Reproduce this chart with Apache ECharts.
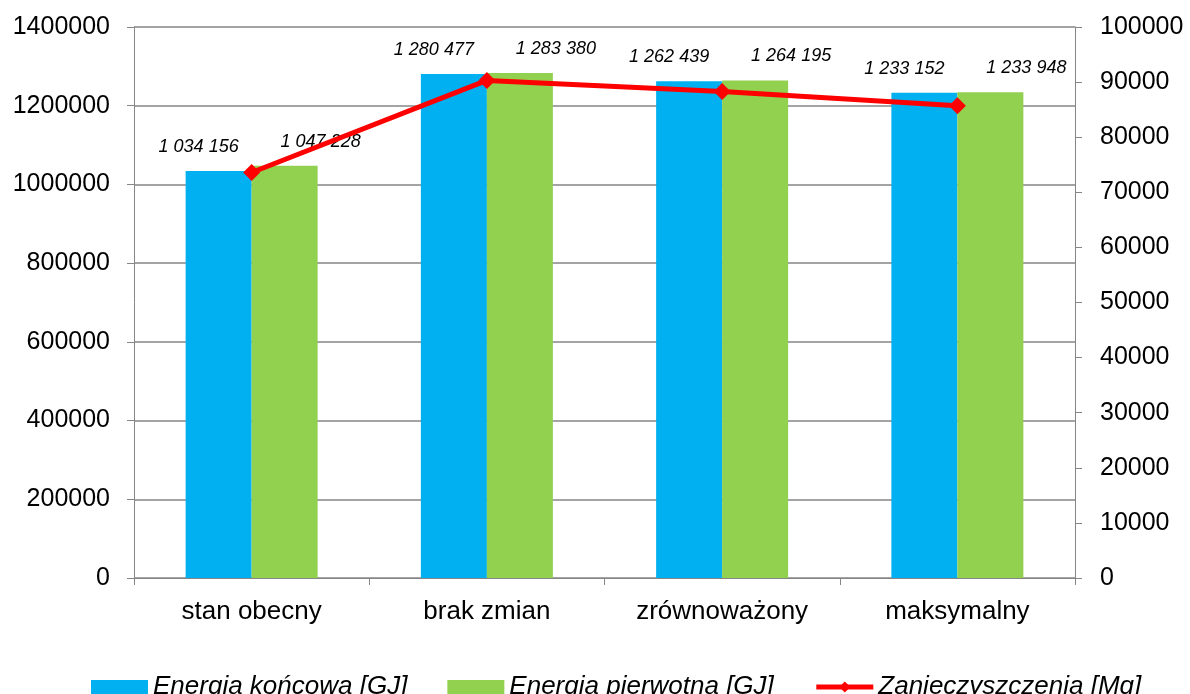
<!DOCTYPE html>
<html>
<head>
<meta charset="utf-8">
<script src="https://cdn.jsdelivr.net/npm/echarts@6/dist/echarts.min.js"></script>
<style>
html,body{margin:0;padding:0;background:#fff;}
#chart{width:1190px;height:694px;}
</style>
</head>
<body>
<div id="chart"></div>
<script>
var categories = ['stan obecny', 'brak zmian', 'zrównoważony', 'maksymalny'];
var energiaKoncowa = [1034156, 1280477, 1262439, 1233152];
var energiaPierwotna = [1047228, 1283380, 1264195, 1233948];
var zanieczyszczenia = [73600, 90300, 88300, 85700];
var seriesNames = ['Energia końcowa [GJ]', 'Energia pierwotna [GJ]', 'Zanieczyszczenia [Mg]'];

var FONT = '"Liberation Sans", Arial, sans-serif';
var AXIS_COLOR = '#868686';

function spaced(v) {
  return String(v).replace(/\B(?=(\d{3})+(?!\d))/g, ' ');
}
function plain(v) { return String(v); }

var chart = echarts.init(document.getElementById('chart'), null, {renderer: 'canvas'});
var barLabel = function (dx) {
  return {
    show: true,
    position: 'top',
    distance: 5,
    offset: [dx, -10],
    fontFamily: FONT,
    fontSize: 18,
    fontStyle: 'italic',
    color: '#000',
    formatter: function (p) { return spaced(p.value); }
  };
};

chart.setOption({
  animation: false,
  backgroundColor: '#fff',
  textStyle: {fontFamily: FONT},
  grid: {left: 134, right: 115, top: 27, bottom: 116, containLabel: false},
  legend: {
    top: 669,
    left: 86,
    itemWidth: 57,
    itemHeight: 14,
    itemGap: 40,
    textStyle: {fontFamily: FONT, fontSize: 26, fontStyle: 'italic', color: '#000'},
    data: [
      {name: seriesNames[0], icon: 'rect'},
      {name: seriesNames[1], icon: 'rect'},
      {name: seriesNames[2], lineStyle: {width: 5, color: '#FF0000'}}
    ]
  },
  xAxis: {
    type: 'category',
    data: categories,
    axisLine: {lineStyle: {color: AXIS_COLOR, width: 1}},
    axisTick: {show: true, length: 7, alignWithLabel: false, lineStyle: {color: AXIS_COLOR}},
    axisLabel: {fontFamily: FONT, fontSize: 26, color: '#000', margin: 21}
  },
  yAxis: [
    {
      type: 'value',
      min: 0, max: 1400000, interval: 200000,
      position: 'left',
      axisLine: {show: true, lineStyle: {color: AXIS_COLOR}},
      axisTick: {show: true, length: 7, lineStyle: {color: AXIS_COLOR}},
      splitLine: {show: true, lineStyle: {color: AXIS_COLOR, width: 1.5}},
      axisLabel: {fontFamily: FONT, fontSize: 25, color: '#000', margin: 24, formatter: plain}
    },
    {
      type: 'value',
      min: 0, max: 100000, interval: 10000,
      position: 'right',
      axisLine: {show: true, lineStyle: {color: AXIS_COLOR}},
      axisTick: {show: true, length: 7, lineStyle: {color: AXIS_COLOR}},
      splitLine: {show: false},
      axisLabel: {fontFamily: FONT, fontSize: 25, color: '#000', margin: 25, formatter: plain}
    }
  ],
  series: [
    {
      name: seriesNames[0],
      type: 'bar',
      data: energiaKoncowa,
      barWidth: 66,
      barGap: '0%',
      itemStyle: {color: '#00B0F0'},
      label: barLabel(-20)
    },
    {
      name: seriesNames[1],
      type: 'bar',
      data: energiaPierwotna,
      barWidth: 66,
      barGap: '0%',
      itemStyle: {color: '#92D050'},
      label: barLabel(36)
    },
    {
      name: seriesNames[2],
      type: 'line',
      yAxisIndex: 1,
      data: zanieczyszczenia,
      symbol: 'diamond',
      symbolSize: 17,
      lineStyle: {color: '#FF0000', width: 5},
      itemStyle: {color: '#FF0000'},
      z: 5
    }
  ]
});
</script>
</body>
</html>
